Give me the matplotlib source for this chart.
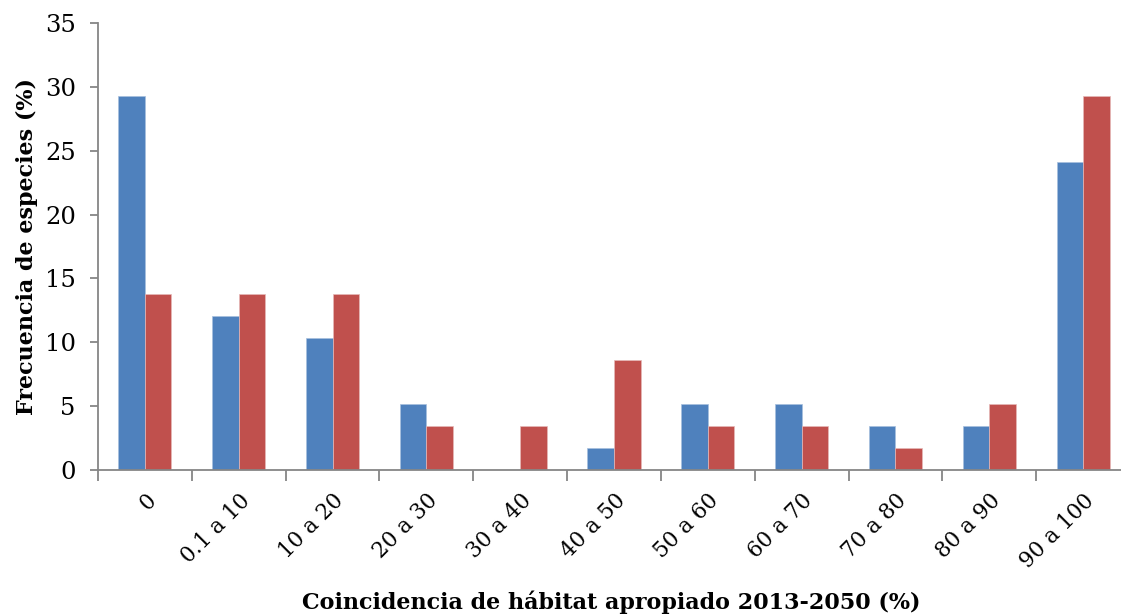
import matplotlib
matplotlib.use('Agg')
import matplotlib.pyplot as plt
import numpy as np

categories = ['0', '0.1 a 10', '10 a 20', '20 a 30', '30 a 40', '40 a 50',
              '50 a 60', '60 a 70', '70 a 80', '80 a 90', '90 a 100']
serie_azul = [29.31, 12.07, 10.34, 5.17, 0.0, 1.72, 5.17, 5.17, 3.45, 3.45, 24.14]
serie_roja = [13.79, 13.79, 13.79, 3.45, 3.45, 8.62, 3.45, 3.45, 1.72, 5.17, 29.31]

plt.rcParams['font.family'] = ['DejaVu Serif']

fig = plt.figure(figsize=(11.21, 6.15), dpi=100)
ax = fig.add_axes([98/1121, 145/615, 1032/1121, 447/615])

x = np.arange(len(categories))
w = 0.283
ax.bar(x - w/2, serie_azul, width=w, color='#4F81BD', edgecolor='#A7BFDE', linewidth=0.5)
ax.bar(x + w/2, serie_roja, width=w, color='#C0504D', edgecolor='#E6B9B8', linewidth=0.5)

ax.set_xlim(-0.5, len(categories) - 0.5)
ax.set_ylim(0, 35)
ax.set_yticks(range(0, 36, 5))
ax.set_xticks(x)
ax.set_xticklabels(categories, rotation=45, ha='right', va='top',
                   rotation_mode='anchor', fontsize=15.5)
ax.xaxis.set_minor_locator(matplotlib.ticker.FixedLocator(np.arange(-0.5, len(categories), 1)))
ax.tick_params(axis='x', which='major', length=0, pad=14)
ax.tick_params(axis='x', which='minor', length=8, color='#868686', width=1.3)
ax.tick_params(axis='y', length=6, color='#868686', width=1.3, labelsize=17.5, pad=10)

for s in ['top', 'right']:
    ax.spines[s].set_visible(False)
for s in ['left', 'bottom']:
    ax.spines[s].set_color('#868686')
    ax.spines[s].set_linewidth(1.3)

ax.set_ylabel('Frecuencia de especies (%)', fontsize=16, fontweight='bold', labelpad=5)
fig.text(611/1121, 1 - 602/615, 'Coincidencia de hábitat apropiado 2013-2050 (%)',
         fontsize=16, fontweight='bold', ha='center', va='center')

fig.savefig('out.png', dpi=100)
